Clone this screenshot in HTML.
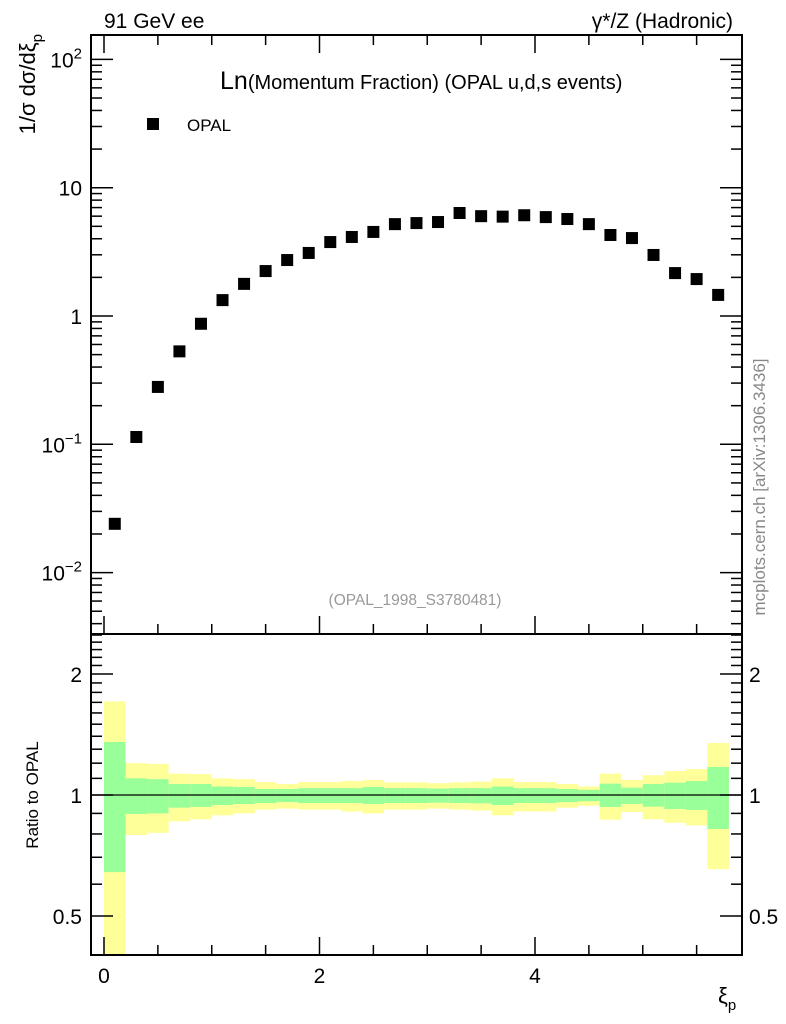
<!DOCTYPE html>
<html><head><meta charset="utf-8"><style>
html,body{margin:0;padding:0;background:#fff;}
svg{display:block;font-family:"Liberation Sans",sans-serif;}
</style></head><body>
<svg id="chart" width="786" height="1024" viewBox="0 0 786 1024" xmlns="http://www.w3.org/2000/svg">
<g id="bands"></g>
<g id="marks"></g>
<g id="axes"></g>
<text x="104" y="28" font-size="21">91 GeV ee</text>
<text x="733" y="28" font-size="21" text-anchor="end">γ*/Z (Hadronic)</text>
<text x="220" y="89"><tspan font-size="25">Ln</tspan><tspan font-size="20">(Momentum Fraction) (OPAL u,d,s events)</tspan></text>
<rect x="147" y="118" width="12" height="12" fill="#000"/>
<text x="187" y="131" font-size="17">OPAL</text>
<text x="415" y="605" font-size="15.5" fill="#999" text-anchor="middle">(OPAL_1998_S3780481)</text>
<text x="0" y="0" font-size="17" fill="#888" text-anchor="middle" transform="translate(765,487) rotate(-90)">mcplots.cern.ch [arXiv:1306.3436]</text>
<text x="0" y="0" font-size="22" text-anchor="end" transform="translate(35,34) rotate(-90)">1/σ dσ/dξ<tspan font-size="15" dy="7">p</tspan></text>
<text x="0" y="0" font-size="17" text-anchor="middle" transform="translate(38,795) rotate(-90)">Ratio to OPAL</text>
<text x="718" y="1003" font-size="22">ξ<tspan font-size="15" dy="7">p</tspan></text>
</svg>
<script>
const binLo = [0,0.2,0.4,0.6,0.8,1.0,1.2,1.4,1.6,1.8,2.0,2.2,2.4,2.6,2.8,3.0,3.2,3.4,3.6,3.8,4.0,4.2,4.4,4.6,4.8,5.0,5.2,5.4,5.6];
const binHi = [0.2,0.4,0.6,0.8,1.0,1.2,1.4,1.6,1.8,2.0,2.2,2.4,2.6,2.8,3.0,3.2,3.4,3.6,3.8,4.0,4.2,4.4,4.6,4.8,5.0,5.2,5.4,5.6,5.8];
const values = [0.024,0.114,0.28,0.53,0.87,1.33,1.78,2.24,2.73,3.1,3.77,4.13,4.52,5.2,5.3,5.4,6.35,6.0,5.95,6.1,5.9,5.7,5.2,4.28,4.05,2.99,2.16,1.94,1.46];
const yellowUp = [1.71,1.20,1.195,1.13,1.127,1.10,1.095,1.077,1.065,1.077,1.077,1.083,1.09,1.075,1.075,1.07,1.075,1.08,1.10,1.077,1.077,1.065,1.05,1.13,1.09,1.12,1.147,1.16,1.347];
const greenUp = [1.355,1.10,1.095,1.065,1.065,1.05,1.047,1.035,1.035,1.04,1.04,1.04,1.047,1.04,1.04,1.038,1.04,1.04,1.05,1.04,1.04,1.035,1.03,1.067,1.043,1.065,1.073,1.083,1.174];
const greenDn = [0.643,0.897,0.90,0.93,0.934,0.944,0.95,0.955,0.96,0.955,0.955,0.955,0.95,0.955,0.955,0.957,0.955,0.953,0.944,0.955,0.955,0.96,0.965,0.934,0.95,0.935,0.923,0.918,0.823];
const yellowDn = [0.3,0.795,0.805,0.86,0.87,0.89,0.90,0.92,0.925,0.92,0.92,0.91,0.90,0.92,0.92,0.925,0.92,0.915,0.89,0.91,0.91,0.93,0.94,0.868,0.907,0.87,0.853,0.84,0.654];
const mainTicks = ["10^-2","10^-1","1","10","10^2"];
const ratioTickVals = [0.5,1,2];
const xTickVals = [0,2,4];

const NS="http://www.w3.org/2000/svg";
const L=91,R=742,T=35,MB=634,RB=955;
const X0=104,XS=107.75;
function xs(v){return X0+v*XS;}
function ym(v){return 316-Math.log10(v)*128.3;}
function yr(v){return Math.max(T,Math.min(RB,795-Math.log10(v)*402));}
function yrRaw(v){return 795-Math.log10(v)*402;}
function mk(tag,attrs,parent){const e=document.createElementNS(NS,tag);for(const k in attrs)e.setAttribute(k,attrs[k]);parent.appendChild(e);return e;}

const bands=document.getElementById('bands');
for(let i=0;i<binLo.length;i++){
  const x1=xs(binLo[i]),x2=xs(binHi[i]);
  const ya=yr(yellowUp[i]),yb=Math.min(RB,yr(yellowDn[i]));
  const y=mk('rect',{x:x1,y:ya,width:x2-x1,height:yb-ya,fill:'#ffff99'},bands);
  
  
  const ga=yr(greenUp[i]),gb=yr(greenDn[i]);
  const g=mk('rect',{x:x1,y:ga,width:x2-x1,height:gb-ga,fill:'#99ff99'},bands);
  
  
}
const marks=document.getElementById('marks');
for(let i=0;i<values.length;i++){
  const cx=xs((binLo[i]+binHi[i])/2),cy=ym(values[i]);
  const r=mk('rect',{x:cx-6,y:cy-6,width:12,height:12,fill:'#000'},marks);
  
  
}
const ax=document.getElementById('axes');
const line=(x1,y1,x2,y2,w)=>mk('line',{x1,y1,x2,y2,stroke:'#000','stroke-width':w||1.5},ax);
mk('rect',{x:L,y:T,width:R-L,height:RB-T,fill:'none',stroke:'#000','stroke-width':2},ax);
line(L,MB,R,MB,2);
line(L,795,R,795,1.2);
for(let v=0;v<=5.9;v+=0.5){
  const x=xs(v),maj=Math.abs(v%2)<1e-6,len=maj?18:10;
  line(x,T,x,T+len);line(x,MB,x,MB-len);line(x,RB,x,RB-len);
}
xTickVals.forEach(v=>{
  const t=mk('text',{x:xs(v),y:983,'font-size':21,'text-anchor':'middle'},ax);t.textContent=v;
  
  
});
for(let d=-3;d<=2;d++){
  for(let m=1;m<10;m++){
    const v=m*Math.pow(10,d),y=ym(v);
    if(y<T||y>MB)continue;
    const len=m===1?22:11;
    line(L,y,L+len,y);line(R,y,R-len,y);
  }
}
mainTicks.forEach((s,i)=>{
  const y=ym(Math.pow(10,i-2))+8;
  const t=mk('text',{x:82,y:y,'font-size':21,'text-anchor':'end'},ax);
  
  
  if(s.indexOf('^')>=0){const p=s.split('^');t.textContent=p[0];const sp=mk('tspan',{'font-size':15,dy:-9},t);sp.textContent=p[1].replace('-','−');}
  else t.textContent=s;
});
for(let v=0.4;v<=2.51;v+=0.1){
  const y=yrRaw(v);if(y<MB||y>RB)continue;
  const maj=ratioTickVals.some(r=>Math.abs(r-v)<1e-6),len=maj?22:11;
  line(L,y,L+len,y);line(R,y,R-len,y);
}
ratioTickVals.forEach(v=>{
  const y=yrRaw(v)+8;
  const t=mk('text',{x:82,y:y,'font-size':21,'text-anchor':'end'},ax);t.textContent=v;
  
  
  const t2=mk('text',{x:749,y:y,'font-size':21},ax);t2.textContent=v;
  
  
});
</script>
</body></html>
